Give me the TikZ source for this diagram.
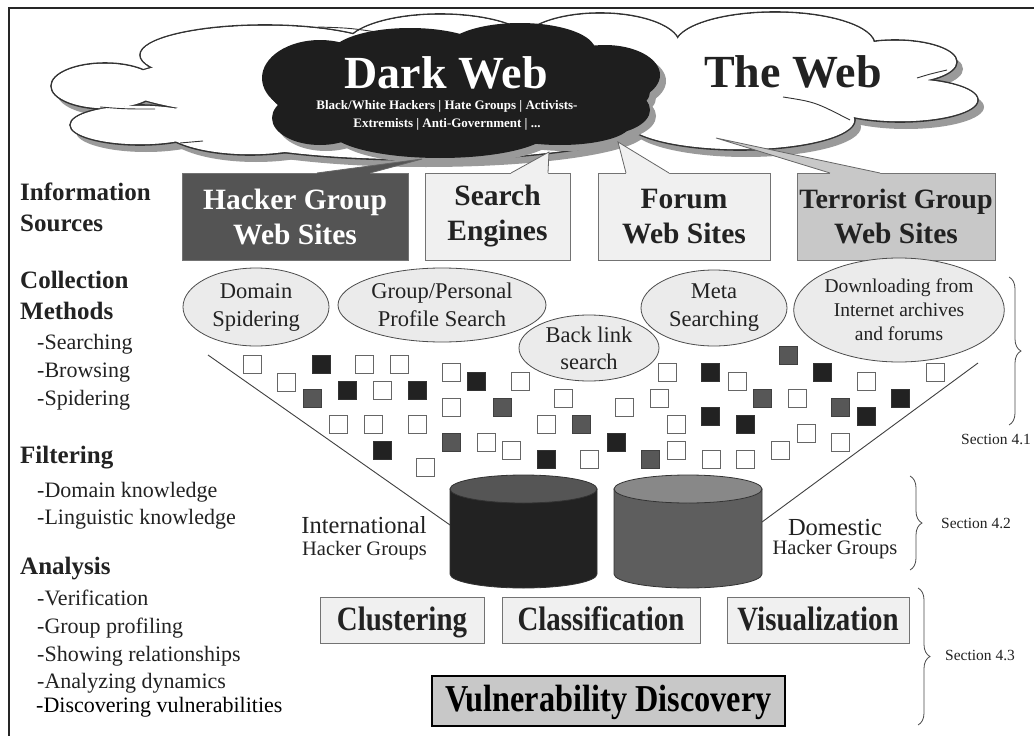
\documentclass[tikz,border=0pt]{standalone}
\usepackage{fontspec}
\setmainfont{Liberation Serif}
\newfontfamily\condfont[FakeStretch=0.85]{Liberation Serif}
\usetikzlibrary{shapes.geometric,decorations.pathreplacing}
\definecolor{hackfill}{HTML}{545454}
\definecolor{lightfill}{HTML}{F0F0F0}
\definecolor{terrfill}{HTML}{C8C8C8}
\definecolor{ellfill}{HTML}{EBEBEB}
\definecolor{darkcloud}{HTML}{1E1E1E}
\definecolor{shadowc}{HTML}{9A9A9A}
\definecolor{sqblack}{HTML}{222222}
\definecolor{sqgray}{HTML}{575757}
\definecolor{cylblack}{HTML}{222222}
\definecolor{cyltopb}{HTML}{555555}
\definecolor{cylgray}{HTML}{5E5E5E}
\definecolor{cyltopg}{HTML}{888888}
\definecolor{inkc}{HTML}{222222}
\begin{document}
\begin{tikzpicture}[x=1pt,y=-1pt,
  srcbox/.style={draw=black!55, line width=0.8pt, minimum height=87pt, inner sep=0pt, align=center, font=\bfseries\fontsize{29.5}{35}\selectfont, text=inkc},
  meth/.style={ellipse, draw=black!70, line width=0.8pt, fill=ellfill, inner sep=0pt, align=center, text=inkc},
  sqw/.style={draw=black!60, fill=white, line width=0.9pt, minimum size=18pt, inner sep=0pt},
  sqb/.style={draw=black!80, fill=sqblack, line width=0.9pt, minimum size=18pt, inner sep=0pt},
  sqg/.style={draw=black!75, fill=sqgray, line width=0.9pt, minimum size=18pt, inner sep=0pt},
  anbox/.style={draw=black!55, fill=lightfill, line width=0.8pt, minimum height=46pt, inner sep=0pt, text height=25pt, text depth=5pt, font=\condfont\bfseries\fontsize{34}{36}\selectfont, text=inkc},
  hdr/.style={anchor=base west, inner sep=0pt, font=\bfseries\fontsize{25}{28}\selectfont, text=inkc},
  item/.style={anchor=base west, inner sep=0pt, font=\fontsize{22}{26}\selectfont, text=inkc},
  seclabel/.style={inner sep=0pt, font=\fontsize{15.5}{18}\selectfont, text=inkc},
  brc/.style={decorate, decoration={brace, amplitude=12pt}, draw=black!70, line width=0.8pt},
  cyllab/.style={anchor=base, inner sep=0pt, text=inkc},
  lobe/.style={draw=black!80, line width=0.9pt},
  funnel/.style={draw=black!75, line width=0.9pt},
  ptr/.style={draw=black!60, line width=0.8pt}]
\useasboundingbox (0,0) rectangle (1034,736);
\fill[white] (0,0) rectangle (1034,736);
% frame
\draw[line width=1.5pt, black!85] (9,736) -- (9,8) -- (1034,8);

% ---------- The Web (white cloud) ----------
\def\whitecloud{105/86/54pt/23pt, 140/125/70pt/20pt, 265/55/125pt/30pt, 440/47/95pt/33pt,
  600/45/80pt/32pt, 775/45/100pt/33pt, 895/62/62pt/22pt, 900/100/78pt/22pt,
  740/120/115pt/30pt, 420/125/220pt/35pt, 250/125/90pt/30pt, 520/85/400pt/45pt}
\foreach \cx/\cy/\rx/\ry in \whitecloud
  \fill[shadowc] ({\cx+6},{\cy+7}) ellipse [x radius=\rx, y radius=\ry];
\foreach \cx/\cy/\rx/\ry in \whitecloud
  \draw[black!80, line width=1.6pt] (\cx,\cy) ellipse [x radius=\rx, y radius=\ry];
\foreach \cx/\cy/\rx/\ry in \whitecloud
  \fill[white] (\cx,\cy) ellipse [x radius=\rx-0.8pt, y radius=\ry-0.8pt];
% lobe lines
\draw[lobe] (100,107) .. controls (125,109) .. (155,109);
\draw[lobe] (318,27) .. controls (350,28) .. (383,33);
\draw[lobe] (180,143) -- (203,141);
\draw[lobe] (917,78) .. controls (930,74) .. (947,70);
\draw[lobe] (783,97) .. controls (815,102) .. (850,120);

% ---------- Dark Web cloud ----------
\def\darkcl{320/78/58pt/38pt, 320/118/48pt/27pt, 410/55/80pt/27pt, 520/50/75pt/27pt,
  605/75/55pt/30pt, 600/110/50pt/25pt, 440/130/110pt/28pt, 560/125/70pt/20pt, 460/92/190pt/45pt}
\foreach \cx/\cy/\rx/\ry in \darkcl
  \fill[shadowc] ({\cx+6},{\cy+6}) ellipse [x radius=\rx, y radius=\ry];
\foreach \cx/\cy/\rx/\ry in \darkcl
  \fill[darkcloud] (\cx,\cy) ellipse [x radius=\rx, y radius=\ry];

\node[anchor=base, inner sep=0pt, text=white, font=\bfseries\fontsize{46}{50}\selectfont] (dw) at (446,88) {Dark Web};
\node[anchor=base, inner sep=0pt, text=white, font=\bfseries\fontsize{13}{16}\selectfont] (dw1) at (447,109) {Black/White Hackers | Hate Groups | Activists-};
\node[anchor=base, inner sep=0pt, text=white, font=\bfseries\fontsize{13}{16}\selectfont] (dw2) at (447,127) {Extremists | Anti-Government | ...};
\node[anchor=base, inner sep=0pt, text=inkc, font=\bfseries\fontsize{46}{50}\selectfont] (tw) at (793,87) {The Web};

% ---------- Information sources ----------
\node[srcbox, fill=hackfill, text=white, minimum width=226pt] (hack) at (295,216.5) {Hacker Group\\Web Sites};
\node[srcbox, fill=lightfill, minimum width=145pt] (search) at (497.5,216.5) {Search\\Engines};
\node[srcbox, fill=lightfill, minimum width=172pt] (forum) at (684,216.5) {Forum\\Web Sites};
\node[srcbox, fill=terrfill, minimum width=198pt] (terr) at (896,216.5) {{\fontsize{28}{35}\selectfont Terrorist Group}\\Web Sites};

% callout pointers
\fill[hackfill] (317,174.6) -- (317,173) -- (422,159) -- (370,173) -- (370,174.6) -- cycle;
\draw[ptr] (317,173) -- (422,159) -- (370,173);
\fill[lightfill] (511,174.6) -- (511,173) -- (549,152) -- (548,173) -- (548,174.6) -- cycle;
\draw[ptr] (511,173) -- (549,152) -- (548,173);
\fill[lightfill] (626,174.6) -- (626,173) -- (618,142) -- (669,173) -- (669,174.6) -- cycle;
\draw[ptr] (626,173) -- (618,142) -- (669,173);
\fill[terrfill] (830,174.6) -- (830,173) -- (716,138) -- (880,173) -- (880,174.6) -- cycle;
\draw[ptr] (830,173) -- (716,138) -- (880,173);

% ---------- Left labels ----------
\node[hdr] (l1) at (20,200) {Information};
\node[hdr] (l2) at (20,231) {Sources};
\node[hdr] (l3) at (20,288) {Collection};
\node[hdr] (l4) at (20,319) {Methods};
\node[item] (l5) at (37,349) {-Searching};
\node[item] (l6) at (37,377) {-Browsing};
\node[item] (l7) at (37,405) {-Spidering};
\node[hdr] (l8) at (20,463) {Filtering};
\node[item] (l9) at (37,497) {-Domain knowledge};
\node[item] (l10) at (37,524) {-Linguistic knowledge};
\node[hdr] (l11) at (20,574) {Analysis};
\node[item] (l12) at (37,605) {-Verification};
\node[item] (l13) at (37,633) {-Group profiling};
\node[item] (l14) at (37,661) {-Showing relationships};
\node[item] (l15) at (37,688) {-Analyzing dynamics};
\node[item, text=black] (l16) at (36,712) {-Discovering vulnerabilities};

% ---------- Funnel ----------
\coordinate (fla) at (208,355);
\coordinate (flb) at (450,525);
\coordinate (fra) at (978,363);
\coordinate (frb) at (762,522);
\draw[funnel] (fla) -- (flb);
\draw[funnel] (fra) -- (frb);

% ---------- Collection methods ----------
\node[meth, minimum width=146pt, minimum height=78pt, font=\fontsize{22.5}{28}\selectfont] (dom) at (256,307) {Domain\\Spidering};
\node[meth, minimum width=208pt, minimum height=74pt, font=\fontsize{22.5}{28}\selectfont] (prof) at (442,305) {Group/Personal\\Profile Search};
\node[meth, minimum width=140pt, minimum height=66pt, font=\fontsize{22.5}{27}\selectfont] (back) at (589,348) {Back link\\search};
\node[meth, minimum width=146pt, minimum height=76pt, font=\fontsize{22.5}{28}\selectfont] (meta) at (714,308) {Meta\\Searching};
\node[meth, minimum width=208pt, minimum height=104pt, font=\fontsize{19.5}{24}\selectfont] (down) at (899,310) {Downloading from\\Internet archives\\and forums};

% ---------- Squares ----------
\foreach \x/\y [count=\i] in {243/355, 277/373, 355/355, 390/355, 373/381, 442/363, 511/372, 442/398,
   554/389, 615/398, 650/389, 329/415, 364/415, 408/415, 537/415, 477/433, 502/441, 580/450, 416/458,
   658/363, 728/372, 857/372, 926/363, 788/389, 667/415, 797/424, 831/433, 667/441, 702/450, 736/450, 771/441}
  \node[sqw] (w\i) at ({\x+9},{\y+9}) {};
\foreach \x/\y [count=\i] in {312/355, 338/381, 408/381, 467/372, 373/441, 537/450, 607/433, 701/363,
   813/363, 891/389, 701/407, 736/415, 857/407}
  \node[sqb] (b\i) at ({\x+9},{\y+9}) {};
\foreach \x/\y [count=\i] in {303/389, 493/398, 572/415, 442/433, 641/450, 779/346, 753/389, 831/398}
  \node[sqg] (g\i) at ({\x+9},{\y+9}) {};

% ---------- Cylinders ----------
\filldraw[fill=cylblack, draw=black!80, line width=0.8pt] (450,489) -- (450,574) arc[start angle=180, end angle=360, x radius=73.5pt, y radius=14pt] -- (597,489) -- cycle;
\filldraw[fill=cyltopb, draw=black!80, line width=0.8pt] (523.5,489) ellipse [x radius=73.5pt, y radius=14pt];
\coordinate (intl) at (523.5,530);
\filldraw[fill=cylgray, draw=black!80, line width=0.8pt] (614,489) -- (614,574) arc[start angle=180, end angle=360, x radius=74pt, y radius=14pt] -- (762,489) -- cycle;
\filldraw[fill=cyltopg, draw=black!80, line width=0.8pt] (688,489) ellipse [x radius=74pt, y radius=14pt];
\coordinate (dome) at (688,530);

\node[cyllab, font=\fontsize{24.5}{26}\selectfont] (il1) at (364,533) {International};
\node[cyllab, font=\fontsize{20.5}{22}\selectfont] (il2) at (364.5,555) {Hacker Groups};
\node[cyllab, font=\fontsize{24.5}{26}\selectfont] (dl1) at (835,535) {Domestic};
\node[cyllab, font=\fontsize{20.5}{22}\selectfont] (dl2) at (835,554) {Hacker Groups};

% ---------- Analysis ----------
\node[anbox, minimum width=164pt] (clu) at (402,620) {Clustering};
\node[anbox, minimum width=198pt] (cla) at (601,620) {Classification};
\node[anbox, minimum width=182pt] (vis) at (818,620) {Visualization};
\node[draw=black, line width=2pt, fill=terrfill, minimum width=353pt, minimum height=50pt, inner sep=0pt, text height=27pt, text depth=7pt, font=\condfont\bfseries\fontsize{38}{40}\selectfont, text=black] (vul) at (608.5,701) {Vulnerability Discovery};

% ---------- Braces ----------
\coordinate (b1t) at (1009,277); \coordinate (b1b) at (1009,425);
\draw[brc] (b1t) -- (b1b);
\node[seclabel] (s1) at (996,439) {Section 4.1};
\coordinate (b2t) at (910,476); \coordinate (b2b) at (910,570);
\draw[brc] (b2t) -- (b2b);
\node[seclabel] (s2) at (976,523) {Section 4.2};
\coordinate (b3t) at (918,588); \coordinate (b3b) at (918,725);
\draw[brc] (b3t) -- (b3b);
\node[seclabel] (s3) at (980,655) {Section 4.3};
\end{tikzpicture}
\end{document}
